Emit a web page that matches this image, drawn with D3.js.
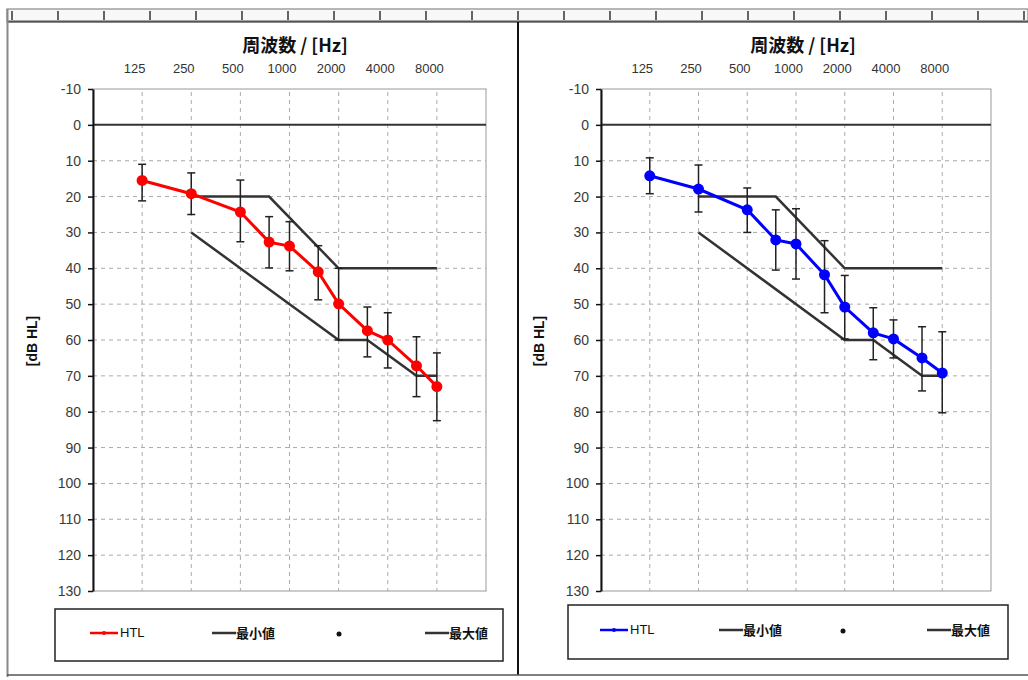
<!DOCTYPE html>
<html lang="ja">
<head>
  <meta charset="utf-8" />
  <title>HTL audiogram</title>
  <script src="https://d3js.org/d3.v7.min.js"></script>
  <style>
    html, body { margin: 0; padding: 0; background: #fff; }
    svg { display: block; }
    .tick text { font-family: "Liberation Sans", Arial, sans-serif; }
  </style>
</head>
<body>
<svg id="chart" width="1028" height="680"></svg>
<script>
  // measurement frequencies (Hz)
  const freqs = [125, 250, 500, 750, 1000, 1500, 2000, 3000, 4000, 6000, 8000];
  const tickFreqs = [125, 250, 500, 1000, 2000, 4000, 8000];
  const tickLabels = ["125", "250", "500", "1000", "2000", "4000", "8000"];
  const dbTicks = [-10, 0, 10, 20, 30, 40, 50, 60, 70, 80, 90, 100, 110, 120, 130];

  // left panel (red)
  const leftHTL  = [15.5, 19.2, 24.3, 32.7, 33.8, 41.0, 49.9, 57.4, 60.0, 67.2, 73.0];
  const leftLow  = [11.0, 13.4, 15.4, 25.6, 27.0, 33.7, 40.0, 50.8, 52.4, 59.1, 63.6];
  const leftHigh = [21.2, 25.0, 32.6, 39.9, 40.7, 48.8, 60.0, 64.7, 67.8, 75.8, 82.5];

  // right panel (blue)
  const rightHTL  = [14.2, 17.9, 23.7, 32.1, 33.2, 41.8, 50.8, 58.0, 59.7, 65.0, 69.2];
  const rightLow  = [9.2, 11.2, 17.6, 23.7, 23.4, 32.3, 42.0, 51.0, 54.4, 56.3, 57.7];
  const rightHigh = [19.2, 24.3, 30.0, 40.5, 43.0, 52.4, 59.7, 65.5, 65.0, 74.2, 80.3];

  // reference lines
  const maxFreqs  = [250, 750, 2000, 8000];
  const maxValues = [20, 20, 40, 40];
  const minFreqs  = [250, 2000, 3000, 6000, 8000];
  const minValues = [30, 60, 60, 70, 70];

  const svg = d3.select("#chart");

  // --- window chrome: ruler strip + frames
  const strip = svg.append("g");
  strip.append("rect").attr("x", 7).attr("y", 9).attr("width", 1021).attr("height", 13)
    .attr("fill", "#f7f8fa").attr("stroke", "#888").attr("stroke-width", 1.2);
  strip.append("line").attr("x1", 7).attr("x2", 1028).attr("y1", 21.5).attr("y2", 21.5)
    .attr("stroke", "#555").attr("stroke-width", 2);
  const cellEdges = d3.range(12).map(i => 12 + i * 46).concat(d3.range(1, 12).map(i => 518 + i * 46));
  strip.selectAll("line.cell").data(cellEdges).enter().append("line")
    .attr("class", "cell")
    .attr("x1", d => d).attr("x2", d => d).attr("y1", 11).attr("y2", 20)
    .attr("stroke", "#333").attr("stroke-width", 1.5);

  svg.append("line").attr("x1", 7.5).attr("x2", 7.5).attr("y1", 9).attr("y2", 677)
    .attr("stroke", "#888").attr("stroke-width", 2);
  svg.append("line").attr("x1", 518).attr("x2", 518).attr("y1", 22).attr("y2", 675)
    .attr("stroke", "#111").attr("stroke-width", 2);
  svg.append("line").attr("x1", 7).attr("x2", 1028).attr("y1", 675).attr("y2", 675)
    .attr("stroke", "#555").attr("stroke-width", 1.5);

  const y = d3.scaleLinear().domain([-10, 130]).range([89, 591]);

  function drawPanel(p) {
    const g = svg.append("g");
    const x = d3.scaleLog().base(2).domain([62.5, 16000]).range([p.x0, p.x1]);

    // plot frame
    g.append("rect").attr("x", p.x0).attr("y", y(-10)).attr("width", p.x1 - p.x0)
      .attr("height", y(130) - y(-10)).attr("fill", "#fff").attr("stroke", "#999").attr("stroke-width", 1);

    // grid
    g.selectAll("line.hg").data(dbTicks.filter(d => d > -10 && d < 130 && d !== 0)).enter()
      .append("line").attr("x1", p.x0).attr("x2", p.x1)
      .attr("y1", d => y(d)).attr("y2", d => y(d))
      .attr("stroke", "#aaa").attr("stroke-width", 1).attr("stroke-dasharray", "4,4");
    g.selectAll("line.vg").data(tickFreqs).enter()
      .append("line").attr("x1", d => x(d)).attr("x2", d => x(d))
      .attr("y1", y(-10) + 3).attr("y2", y(130))
      .attr("stroke", "#aaa").attr("stroke-width", 1).attr("stroke-dasharray", "4,4");
    g.append("line").attr("x1", p.x0).attr("x2", p.x1).attr("y1", y(0)).attr("y2", y(0))
      .attr("stroke", "#333").attr("stroke-width", 2);

    // axes
    const ya = g.append("g").attr("transform", `translate(${p.x0},0)`)
      .call(d3.axisLeft(y).tickValues(dbTicks).tickFormat(d => String(d))
        .tickSize(5).tickPadding(7).tickSizeOuter(0));
    ya.select(".domain").attr("stroke", "#111").attr("stroke-width", 2);
    ya.selectAll(".tick line").attr("stroke", "#111").attr("stroke-width", 1.5);
    ya.selectAll(".tick text").attr("font-size", 14).attr("fill", "#3a3a3a");

    const xa = g.append("g").attr("transform", `translate(0,${y(-10) - 16})`)
      .call(d3.axisTop(x).tickValues(tickFreqs).tickFormat((d, i) => tickLabels[i]).tickSize(0).tickPadding(0));
    xa.select(".domain").remove();
    xa.selectAll(".tick text").attr("font-family", "DejaVu Sans, sans-serif")
      .attr("font-size", 13).attr("fill", "#333").attr("dx", -8);

    // titles
    g.append("text").attr("x", p.titleX).attr("y", 52).attr("text-anchor", "middle")
      .attr("font-family", "'Noto Sans CJK JP', sans-serif").attr("font-weight", "bold")
      .attr("font-size", 18).attr("fill", "#111").text("周波数 / [Hz]");
    g.append("text").attr("transform", `translate(${p.ylabX},341) rotate(-90)`)
      .attr("text-anchor", "middle").attr("font-family", "'Liberation Sans', Arial, sans-serif")
      .attr("font-weight", "bold").attr("font-size", 14).attr("fill", "#111").text("[dB HL]");

    // reference lines
    const line = d3.line().x(d => x(d[0])).y(d => y(d[1]));
    g.append("path").datum(maxFreqs.map((f, i) => [f, maxValues[i]])).attr("d", line)
      .attr("fill", "none").attr("stroke", "#333").attr("stroke-width", 2.5);
    g.append("path").datum(minFreqs.map((f, i) => [f, minValues[i]])).attr("d", line)
      .attr("fill", "none").attr("stroke", "#333").attr("stroke-width", 2.5);

    // HTL line
    const pts = freqs.map((f, i) => ({ f, v: p.htl[i], lo: p.low[i], hi: p.high[i] }));
    g.append("path").datum(pts.map(d => [d.f, d.v])).attr("d", line)
      .attr("fill", "none").attr("stroke", p.color).attr("stroke-width", 3);

    // error bars
    const eb = g.selectAll("g.eb").data(pts).enter().append("g")
      .attr("stroke", "#222").attr("stroke-width", 1.5);
    eb.append("line").attr("x1", d => x(d.f)).attr("x2", d => x(d.f))
      .attr("y1", d => y(d.lo)).attr("y2", d => y(d.hi));
    eb.append("line").attr("x1", d => x(d.f) - 4).attr("x2", d => x(d.f) + 4)
      .attr("y1", d => y(d.lo)).attr("y2", d => y(d.lo));
    eb.append("line").attr("x1", d => x(d.f) - 4).attr("x2", d => x(d.f) + 4)
      .attr("y1", d => y(d.hi)).attr("y2", d => y(d.hi));

    // markers
    g.selectAll("circle.m").data(pts).enter().append("circle")
      .attr("cx", d => x(d.f)).attr("cy", d => y(d.v)).attr("r", 5.5).attr("fill", p.color);

    // legend
    const L = p.legend;
    const lg = g.append("g");
    lg.append("rect").attr("x", L.x).attr("y", L.y).attr("width", L.w).attr("height", L.h)
      .attr("fill", "#fff").attr("stroke", "#222").attr("stroke-width", 1.5);
    const ly = L.y + L.h / 2 - 2;
    lg.append("line").attr("x1", L.x + L.htl).attr("x2", L.x + L.htl + 28).attr("y1", ly).attr("y2", ly)
      .attr("stroke", p.color).attr("stroke-width", 2.5);
    lg.append("circle").attr("cx", L.x + L.htl + 14).attr("cy", ly).attr("r", 2).attr("fill", p.color);
    lg.append("text").attr("x", L.x + L.htl + 30).attr("y", ly + 4)
      .attr("font-family", "'Liberation Sans', Arial, sans-serif").attr("font-size", 13).attr("fill", "#111").text("HTL");
    [[L.min, "最小値"], [L.max, "最大値"]].forEach(([off, label]) => {
      lg.append("line").attr("x1", L.x + off).attr("x2", L.x + off + 24).attr("y1", ly).attr("y2", ly)
        .attr("stroke", "#333").attr("stroke-width", 2.5);
      lg.append("text").attr("x", L.x + off + 24).attr("y", ly + 5)
        .attr("font-family", "'Noto Sans CJK JP', sans-serif").attr("font-weight", "bold")
        .attr("font-size", 13).attr("fill", "#111").text(label);
    });
    lg.append("circle").attr("cx", L.x + L.dot).attr("cy", ly + 1).attr("r", 2.5).attr("fill", "#111");
  }

  drawPanel({
    x0: 93, x1: 486, titleX: 295, ylabX: 37, color: "#ff0000",
    htl: leftHTL, low: leftLow, high: leftHigh,
    legend: { x: 55, y: 609, w: 448, h: 52, htl: 35, min: 157, dot: 284, max: 370 }
  });
  drawPanel({
    x0: 601, x1: 991, titleX: 803, ylabX: 544, color: "#0000ff",
    htl: rightHTL, low: rightLow, high: rightHigh,
    legend: { x: 568, y: 605, w: 440, h: 54, htl: 32, min: 151, dot: 275, max: 359 }
  });
</script>
</body>
</html>
